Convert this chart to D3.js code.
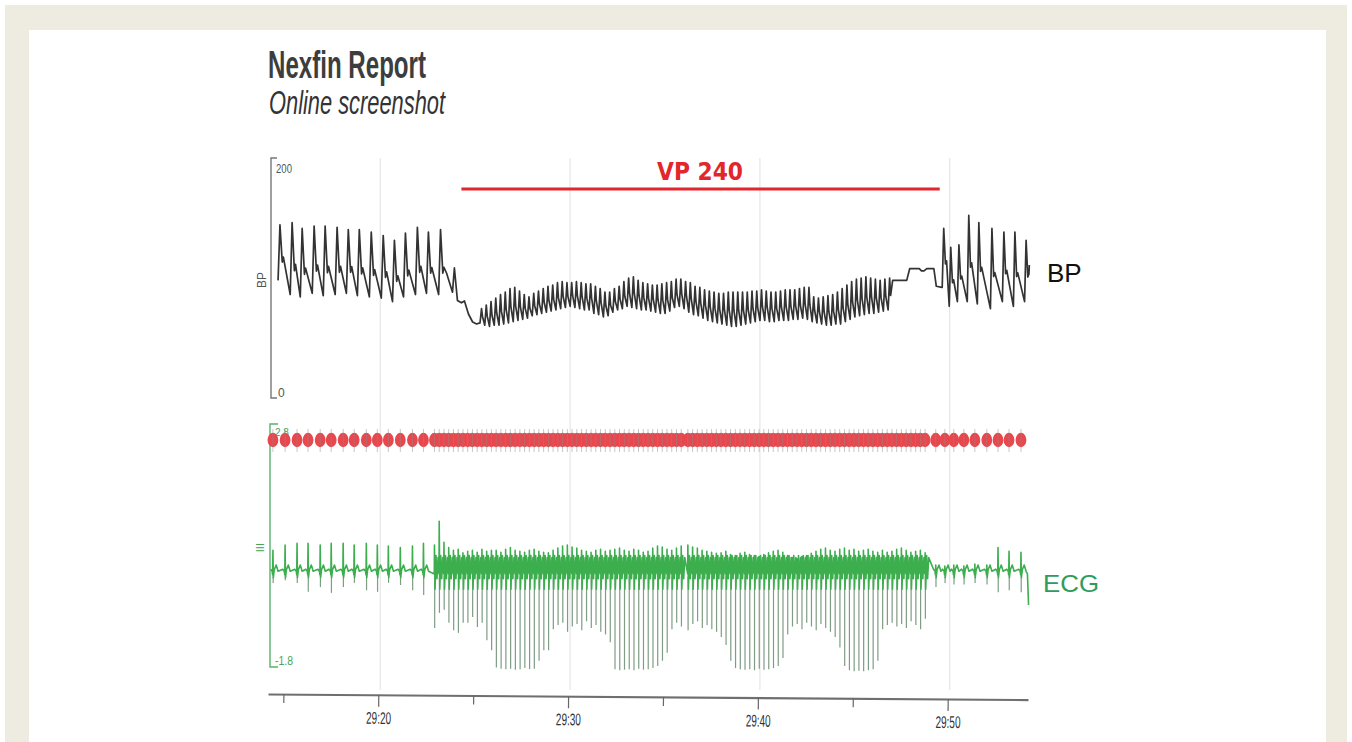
<!DOCTYPE html>
<html lang="en">

<head>
    <meta charset="UTF-8">
    <title>Nexfin Report</title>
    <script src="https://cdn.jsdelivr.net/npm/d3@7/dist/d3.min.js"></script>
    <style>
        * {
            margin: 0;
        }

        body {
            background: #fff;
            overflow: hidden;
        }
    </style>
</head>

<body>
    <div id="chart"></div>
    <script>
        // time in seconds after 29:00
        var axisTicks = [15, 20, 25, 30, 35, 40, 45, 50];
        var axisLabels = ['', '29:20', '', '29:30', '', '29:40', '', '29:50'];
        var gridTimes = [20, 30, 40, 50];
        var vpBar = [24.38, 49.58];

        // BP (mmHg) - sinus beats before pacing
        var preBeatT = [14.82, 15.46, 15.99, 16.62, 17.20, 17.83, 18.42, 19.00, 19.63, 20.26, 20.85, 21.43, 22.06, 22.64, 23.28];
        var preSys = [145, 147, 142, 144, 144, 143, 141, 141, 139, 136, 132, 138, 143, 139, 141];
        var preDia = [98, 86, 84, 87, 85, 86, 87, 85, 84, 83, 80, 84, 86, 87, 86];
        // drop of pressure when pacing starts [t, mmHg]
        var bpDrop = [[23.6, 104], [23.91, 88], [24.01, 108.5], [24.17, 81], [24.38, 79], [24.54, 80.5], [24.75, 69.5], [24.97, 62.7], [25.18, 61]];
        // BP during VP 240
        var vpBeatT = [25.44, 25.69, 25.94, 26.19, 26.44, 26.69, 26.94, 27.19, 27.44, 27.69, 27.94, 28.19, 28.44, 28.69, 28.94, 29.19, 29.44, 29.69, 29.94, 30.19,
            30.44, 30.69, 30.94, 31.19, 31.44, 31.69, 31.94, 32.19, 32.44, 32.69, 32.94, 33.19, 33.44, 33.69, 33.94, 34.19, 34.44, 34.69, 34.94, 35.19,
            35.44, 35.69, 35.94, 36.19, 36.44, 36.69, 36.94, 37.19, 37.44, 37.69, 37.94, 38.19, 38.44, 38.69, 38.94, 39.19, 39.44, 39.69, 39.94, 40.19,
            40.44, 40.69, 40.94, 41.19, 41.44, 41.69, 41.94, 42.19, 42.44, 42.69, 42.94, 43.19, 43.44, 43.69, 43.94, 44.19, 44.44, 44.69, 44.94, 45.19,
            45.44, 45.69, 45.94, 46.19, 46.44, 46.69, 46.94];
        var vpSys = [74, 77, 80, 83, 86, 88, 91, 92, 89, 86, 84, 87, 89, 91, 93, 94, 96, 97, 96, 96,
            97, 96, 95, 95, 93, 91, 88, 88, 91, 93, 97, 100, 101, 98, 96, 95, 94, 94, 95, 96,
            97, 99, 99, 97, 96, 93, 92, 90, 89, 88, 87, 87, 88, 88, 88, 88, 88, 89, 89, 90,
            89, 88, 88, 89, 90, 90, 90, 91, 92, 92, 84, 83, 84, 85, 86, 88, 91, 94, 97, 99,
            100, 101, 100, 99, 98, 99, 100];
        var vpDia = [62, 60, 59, 60, 60, 61, 62, 63, 64, 65, 66, 68, 69, 70, 71, 72, 73, 74, 75, 76,
            75, 74, 73, 73, 70, 69, 67, 68, 71, 73, 74, 76, 75, 74, 73, 73, 72, 71, 70, 70,
            72, 75, 76, 74, 71, 69, 68, 66, 64, 63, 62, 61, 60, 59, 59, 60, 61, 62, 63, 64,
            64, 63, 63, 64, 64, 64, 65, 65, 66, 65, 63, 62, 61, 60, 60, 61, 61, 63, 65, 67,
            68, 69, 70, 70, 71, 72, 73];
        // plateau after pacing stops [t, mmHg]
        var bpPlateau = [[47.1, 98], [47.84, 98], [48.0, 108], [48.5, 108], [48.62, 106], [48.75, 106], [48.9, 108], [49.27, 108], [49.4, 93], [49.69, 92]];
        // BP recovery beats
        var postBeatT = [49.79, 50.16, 50.59, 51.11, 51.64, 52.33, 52.96, 53.54, 54.13];
        var postSys = [142, 126, 128, 153, 147, 142, 139, 139, 132];
        var postDia = [92, 76, 80, 80, 78, 74, 80, 76, 80];
        var bpEnd = [[54.3, 111]];

        // ECG lead III (mV)
        var preRT = [14.45, 15.09, 15.72, 16.30, 16.94, 17.52, 18.15, 18.73, 19.37, 19.95, 20.53, 21.16, 21.80, 22.38];
        var preR = [0.40, 0.50, 0.53, 0.53, 0.50, 0.53, 0.53, 0.50, 0.53, 0.50, 0.48, 0.45, 0.48, 0.53];
        var preS = [-0.22, -0.17, -0.22, -0.39, -0.30, -0.41, -0.30, -0.22, -0.36, -0.39, -0.22, -0.26, -0.36, -0.45];
        var paceT = [22.96, 23.21, 23.46, 23.71, 23.96, 24.21, 24.46, 24.71, 24.96, 25.21, 25.46, 25.71, 25.96, 26.21, 26.46, 26.71, 26.96, 27.21, 27.46, 27.71,
            27.96, 28.21, 28.46, 28.71, 28.96, 29.21, 29.46, 29.71, 29.96, 30.21, 30.46, 30.71, 30.96, 31.21, 31.46, 31.71, 31.96, 32.21, 32.46, 32.71,
            32.96, 33.21, 33.46, 33.71, 33.96, 34.21, 34.46, 34.71, 34.96, 35.21, 35.46, 35.71, 35.96, 36.31, 36.56, 36.81, 37.06, 37.31, 37.56, 37.81,
            38.06, 38.31, 38.56, 38.81, 39.06, 39.31, 39.56, 39.81, 40.06, 40.31, 40.56, 40.81, 41.06, 41.31, 41.56, 41.81, 42.06, 42.31, 42.56, 42.81,
            43.06, 43.31, 43.56, 43.81, 44.06, 44.31, 44.56, 44.81, 45.06, 45.31, 45.56, 45.81, 46.06, 46.31, 46.56, 46.81, 47.06, 47.31, 47.56, 47.81,
            48.06, 48.31, 48.56, 48.81];
        var paceR = [0.50, 0.95, 0.55, 0.45, 0.40, 0.42, 0.35, 0.38, 0.40, 0.36, 0.42, 0.38, 0.40,
            0.40, 0.36, 0.42, 0.45, 0.40, 0.38, 0.36, 0.40, 0.42, 0.38, 0.36,
            0.35, 0.40, 0.44, 0.48, 0.50, 0.46, 0.44, 0.40, 0.38, 0.36, 0.40, 0.42, 0.38, 0.40,
            0.42, 0.44, 0.40, 0.38, 0.42, 0.40, 0.36, 0.38, 0.44, 0.48, 0.46, 0.42,
            0.40, 0.44, 0.48, 0.50, 0.46, 0.44, 0.40, 0.38, 0.36, 0.34, 0.35, 0.38,
            0.32, 0.30, 0.34, 0.36, 0.32, 0.30, 0.28, 0.32, 0.35, 0.38, 0.40, 0.36,
            0.30, 0.26, 0.24, 0.28, 0.30, 0.34, 0.38, 0.42, 0.44, 0.40, 0.38, 0.42,
            0.44, 0.40, 0.42, 0.38, 0.40, 0.42, 0.38, 0.36,
            0.40, 0.36, 0.38, 0.42, 0.44, 0.40, 0.36, 0.38, 0.40, 0.35];
        var paceS = [-1.08, -0.79, -0.73, -0.98, -1.12, -1.17, -0.98, -0.98, -0.87, -1.06, -0.98, -1.31, -1.50,
            -1.83, -1.85, -1.86, -1.85, -1.87, -1.86, -1.84, -1.86, -1.85, -1.70, -1.50,
            -1.50, -1.10, -1.02, -0.98, -1.15, -1.05, -1.00, -1.12, -0.95, -1.08, -1.02, -1.15, -1.20, -1.35,
            -1.86, -1.88, -1.87, -1.86, -1.88, -1.85, -1.87, -1.86, -1.84, -1.80, -1.70, -1.55,
            -1.10, -0.98, -1.05, -1.12, -1.00, -0.95, -1.08, -1.02, -1.10, -1.15, -1.25, -1.40,
            -1.70, -1.84, -1.86, -1.87, -1.86, -1.88, -1.85, -1.87, -1.86, -1.84, -1.80, -1.65,
            -1.20, -1.05, -1.00, -1.10, -0.98, -1.05, -1.12, -1.00, -1.08, -1.15, -1.25, -1.45,
            -1.80, -1.88, -1.90, -1.89, -1.90, -1.88, -1.86, -1.70,
            -1.10, -1.02, -0.98, -1.05, -1.00, -1.08, -0.95, -1.02, -1.10, -0.90];
        var postRT = [49.37, 49.85, 50.32, 50.85, 51.43, 52.06, 52.65, 53.23, 53.86];
        var postR = [0.12, 0.10, 0.12, 0.10, 0.14, 0.12, 0.45, 0.38, 0.36];
        var postS = [-0.30, -0.22, -0.25, -0.25, -0.22, -0.25, -0.40, -0.36, -0.40];
        var ecgEnd = [[54.2, -0.05], [54.26, -0.64]];

        var W = 1352, H = 742;
        var svg = d3.select('#chart').append('svg')
            .attr('width', W)
            .attr('height', H)
            .style('display', 'block');

        // frame
        svg.append('rect').attr('x', 5).attr('y', 5).attr('width', 1342).attr('height', H - 5).attr('fill', '#eeebe1');
        svg.append('rect').attr('x', 29).attr('y', 30).attr('width', 1297).attr('height', H - 30).attr('fill', '#fff');

        // title
        svg.append('text').attr('x', 268).attr('y', 78)
            .attr('font-family', 'Liberation Sans, Arial, sans-serif').attr('font-weight', 'bold')
            .attr('font-size', 38).attr('fill', '#3d3d3d')
            .attr('textLength', 158).attr('lengthAdjust', 'spacingAndGlyphs')
            .text('Nexfin Report');
        svg.append('text').attr('x', 269).attr('y', 114)
            .attr('font-family', 'Liberation Sans, Arial, sans-serif').attr('font-style', 'italic')
            .attr('font-size', 33).attr('fill', '#333')
            .attr('textLength', 176).attr('lengthAdjust', 'spacingAndGlyphs')
            .text('Online screenshot');

        var x = d3.scaleLinear().domain([14.19, 54.23]).range([268, 1028]);
        var yBP = d3.scaleLinear().domain([0, 200]).range([396, 160]);
        var yECG = d3.scaleLinear().domain([-1.8, 2.8]).range([666, 424]);

        // grid
        svg.append('g').selectAll('line').data(gridTimes).enter().append('line')
            .attr('x1', d => x(d) + 2).attr('x2', d => x(d) + 2)
            .attr('y1', 158).attr('y2', 690)
            .attr('stroke', '#e6e6e6').attr('stroke-width', 1.2);

        // BP bracket
        var bpG = svg.append('g');
        bpG.append('path')
            .attr('d', `M277,${yBP(200) - 2}H271V${yBP(0) + 2}H277`)
            .attr('fill', 'none').attr('stroke', '#777').attr('stroke-width', 1.4);
        bpG.append('text').attr('x', 276).attr('y', yBP(200) + 13)
            .attr('font-family', 'Liberation Sans, sans-serif').attr('font-size', 13)
            .attr('fill', '#555').attr('textLength', 16).attr('lengthAdjust', 'spacingAndGlyphs').text('200');
        bpG.append('text').attr('x', 278).attr('y', yBP(0) + 1)
            .attr('font-family', 'Liberation Sans, sans-serif').attr('font-size', 12)
            .attr('fill', '#555').text('0');
        bpG.append('text').attr('transform', `translate(266,${yBP(100) + 2}) rotate(-90)`)
            .attr('text-anchor', 'middle')
            .attr('font-family', 'Liberation Sans, sans-serif').attr('font-size', 12)
            .attr('fill', '#555').text('BP');

        // BP curve built from the beat arrays
        var bpPts = [];
        preBeatT.forEach(function (t, i) {
            var s = preSys[i], d = preDia[i];
            bpPts.push([t - 0.1, d], [t, s], [t + 0.12, d + 0.33 * (s - d)], [t + 0.18, d + 0.42 * (s - d)]);
        });
        bpPts = bpPts.concat(bpDrop);
        vpBeatT.forEach(function (t, i) {
            var s = vpSys[i], d = vpDia[i];
            bpPts.push([t - 0.08, d], [t, s], [t + 0.05, d + 0.45 * (s - d)]);
        });
        bpPts = bpPts.concat(bpPlateau);
        postBeatT.forEach(function (t, i) {
            var s = postSys[i], d = postDia[i];
            bpPts.push([t - 0.08, d], [t, s], [t + 0.09, d + 0.4 * (s - d)], [t + 0.15, d + 0.45 * (s - d)]);
        });
        bpPts = bpPts.concat(bpEnd);

        var bpLine = d3.line().x(d => x(d[0])).y(d => yBP(d[1]));
        svg.append('path').datum(bpPts)
            .attr('d', bpLine)
            .attr('fill', 'none').attr('stroke', '#333').attr('stroke-width', 1.7)
            .attr('stroke-linejoin', 'round');

        svg.append('text').attr('x', 1047).attr('y', 282)
            .attr('font-family', 'Liberation Sans, Arial, sans-serif').attr('font-size', 26)
            .attr('fill', '#111').text('BP');

        // VP 240 annotation
        svg.append('line')
            .attr('x1', x(vpBar[0])).attr('x2', x(vpBar[1]))
            .attr('y1', 189).attr('y2', 189)
            .attr('stroke', '#e2262c').attr('stroke-width', 3);
        svg.append('text').attr('x', 700).attr('y', 180).attr('text-anchor', 'middle')
            .attr('font-family', 'DejaVu Sans, sans-serif').attr('font-weight', 'bold')
            .attr('font-size', 24).attr('fill', '#e2262c')
            .attr('textLength', 86).attr('lengthAdjust', 'spacingAndGlyphs')
            .text('VP 240');

        // ECG bracket
        var ecgG = svg.append('g');
        ecgG.append('path')
            .attr('d', `M278,${yECG(2.8)}H270V${yECG(-1.8) + 1}H278`)
            .attr('fill', 'none').attr('stroke', '#58b36a').attr('stroke-width', 1.4);
        ecgG.append('text').attr('x', 275).attr('y', yECG(2.8) + 12)
            .attr('font-family', 'Liberation Sans, sans-serif').attr('font-size', 10)
            .attr('fill', '#4aa35a').text('2.8');
        ecgG.append('text').attr('x', 275).attr('y', yECG(-1.8) - 1)
            .attr('font-family', 'Liberation Sans, sans-serif').attr('font-size', 13)
            .attr('fill', '#4aa35a').attr('textLength', 18).attr('lengthAdjust', 'spacingAndGlyphs').text('-1.8');
        ecgG.append('text').attr('transform', `translate(264,${yECG(0.45)}) rotate(-90)`)
            .attr('text-anchor', 'middle')
            .attr('font-family', 'Liberation Sans, sans-serif').attr('font-size', 11)
            .attr('fill', '#4aa35a').text('III');

        // ECG trace
        var ecgPts = [];
        var spikes = [];
        function sinusBeat(t, r, s) {
            ecgPts.push([t - 0.12, 0.04], [t - 0.04, 0.0], [t - 0.015, -0.07], [t, r], [t + 0.02, -0.12],
                [t + 0.07, 0.03], [t + 0.17, 0.12], [t + 0.27, 0.0]);
            spikes.push([t + 0.012, s]);
        }
        preRT.forEach((t, i) => sinusBeat(t, preR[i], preS[i]));
        paceT.forEach(function (t, i) {
            ecgPts.push([t - 0.01, -0.05], [t, paceR[i]], [t + 0.03, -0.34], [t + 0.08, 0.3], [t + 0.13, -0.14], [t + 0.19, 0.26]);
            spikes.push([t + 0.012, paceS[i]]);
        });
        postRT.forEach((t, i) => sinusBeat(t, postR[i], postS[i]));
        ecgPts = ecgPts.concat(ecgEnd);

        svg.append('g').selectAll('line').data(spikes).enter().append('line')
            .attr('x1', d => x(d[0])).attr('x2', d => x(d[0]))
            .attr('y1', yECG(-0.1)).attr('y2', d => yECG(d[1]))
            .attr('stroke', '#7f9c84').attr('stroke-width', 1.2);

        var ecgLine = d3.line().x(d => x(d[0])).y(d => yECG(d[1]));
        svg.append('path').datum(ecgPts)
            .attr('d', ecgLine)
            .attr('fill', 'none').attr('stroke', '#3cae4e').attr('stroke-width', 1.6)
            .attr('stroke-linejoin', 'round');

        svg.append('text').attr('x', 1043).attr('y', 592)
            .attr('font-family', 'Liberation Sans, Arial, sans-serif').attr('font-size', 24)
            .attr('fill', '#2f9c5e').attr('textLength', 56).attr('lengthAdjust', 'spacingAndGlyphs')
            .text('ECG');

        // beat markers (red) on top of the ECG panel
        var markerT = preRT.concat(paceT, postRT);
        var mk = svg.append('g');
        mk.selectAll('ellipse').data(markerT).enter().append('ellipse')
            .attr('cx', d => x(d)).attr('cy', 440)
            .attr('rx', 5.4).attr('ry', 7.2)
            .attr('fill', '#e8474d');
        mk.selectAll('line').data(markerT).enter().append('line')
            .attr('x1', d => x(d)).attr('x2', d => x(d))
            .attr('y1', 429).attr('y2', 452)
            .attr('stroke', '#8c8c8c').attr('stroke-opacity', 0.55).attr('stroke-width', 0.9);

        // time axis
        var axis = d3.axisBottom(x)
            .tickValues(axisTicks)
            .tickSizeOuter(0)
            .tickFormat((d, i) => axisLabels[i]);
        var ax = svg.append('g')
            .attr('transform', 'translate(0,694) rotate(0.42,268,0)')
            .call(axis);
        ax.select('.domain').attr('stroke', '#6f6f6f').attr('stroke-width', 2.2);
        ax.selectAll('.tick line')
            .attr('stroke', '#666').attr('stroke-width', 1.2)
            .attr('y2', (d, i) => axisLabels[i] ? 12 : 9);
        ax.selectAll('.tick text')
            .attr('y', 17)
            .attr('font-family', 'Liberation Sans, Arial, sans-serif')
            .attr('font-size', 17).attr('fill', '#333')
            .attr('textLength', (d, i) => axisLabels[i] ? 25 : null)
            .attr('lengthAdjust', 'spacingAndGlyphs');
    </script>
</body>

</html>
